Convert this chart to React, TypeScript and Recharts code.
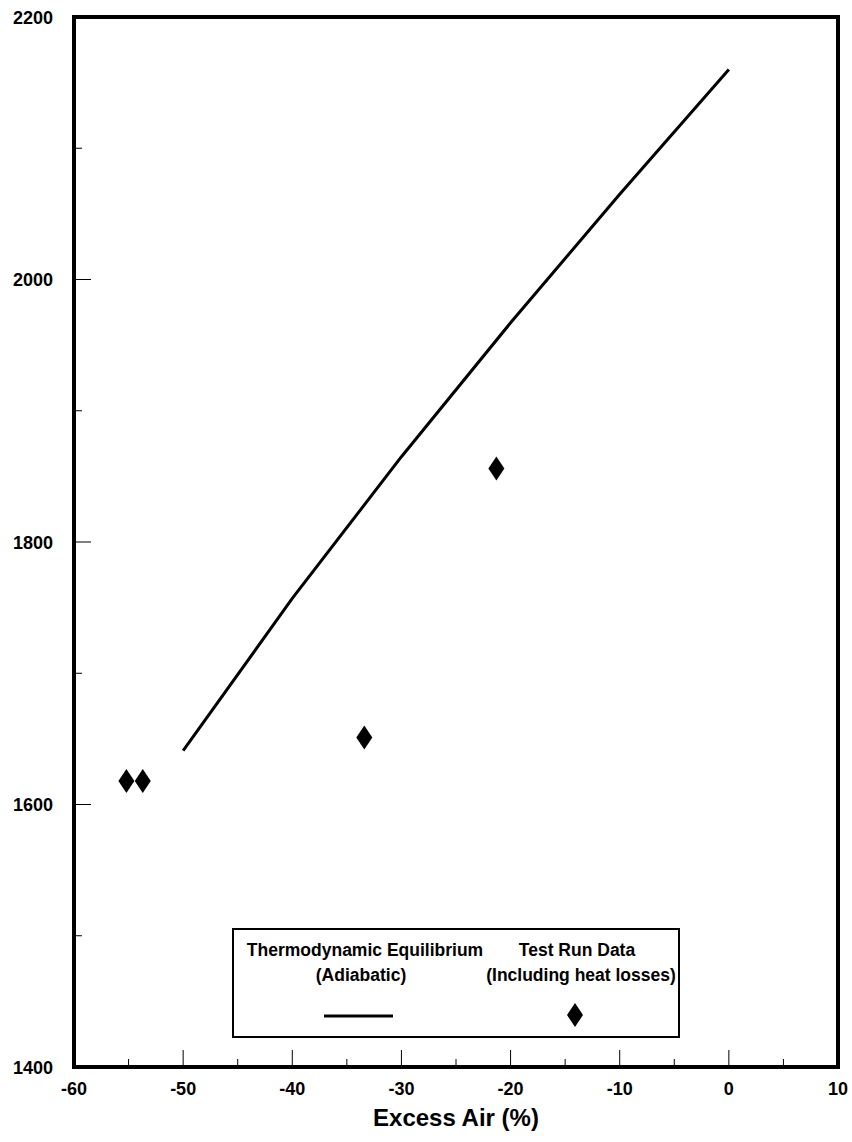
import React from 'react';
import { ComposedChart, Line, Scatter, XAxis, YAxis, ReferenceArea, Legend } from 'recharts';

const FONT = "'Liberation Sans', Arial, Helvetica, sans-serif";

// Thermodynamic Equilibrium (Adiabatic) curve
const equilibriumX = [-50, -40, -30, -20, -10, 0];
const equilibriumY = [1641, 1757, 1865, 1967, 2065, 2160];

// Test Run Data (Including heat losses)
const testRunX = [-55.2, -53.7, -33.4, -21.3];
const testRunY = [1618, 1618, 1651, 1856];

const xTicks = [-60, -55, -50, -45, -40, -35, -30, -25, -20, -15, -10, -5, 0, 5, 10];
const xLabelTicks = [-60, -50, -40, -30, -20, -10, 0, 10];
const yTicks = [1400, 1500, 1600, 1700, 1800, 1900, 2000, 2100, 2200];
const yLabelTicks = [1400, 1600, 1800, 2000, 2200];

const lineData = equilibriumX.map((x, i) => ({ x, y: equilibriumY[i] }));
const scatterData = testRunX.map((x, i) => ({ x, y: testRunY[i] }));

const XTick = (props: any) => {
  const { x, y, payload } = props;
  const major = xLabelTicks.includes(payload.value);
  return (
    <g>
      <line x1={x} x2={x} y1={y} y2={y - (major ? 17 : 8)} stroke="#000" strokeWidth={1} />
      {major && (
        <text x={x} y={y + 28} textAnchor="middle" fontSize={18} fontWeight="bold" fontFamily={FONT} fill="#000">
          {payload.value}
        </text>
      )}
    </g>
  );
};

const YTick = (props: any) => {
  const { x, y, payload } = props;
  const major = yLabelTicks.includes(payload.value);
  return (
    <g>
      <line x1={x} x2={x + (major ? 17 : 8)} y1={y} y2={y} stroke="#000" strokeWidth={1} />
      {major && (
        <text x={x - 21} y={y + 6.5} textAnchor="end" fontSize={18} fontWeight="bold" fontFamily={FONT} fill="#000">
          {payload.value}
        </text>
      )}
    </g>
  );
};

const Diamond = (props: any) => {
  const { cx, cy } = props;
  return <polygon points={`${cx},${cy - 12} ${cx + 8},${cy} ${cx},${cy + 12} ${cx - 8},${cy}`} fill="#000" />;
};

const LegendBox = () => (
  <div style={{ width: 448, height: 110, border: '2px solid #000', boxSizing: 'border-box', background: '#fff' }}>
    <svg width={444} height={106} style={{ display: 'block' }}>
      <g fontFamily={FONT} fontWeight="bold" fontSize={17.5} fill="#000" textAnchor="middle">
        <text x={131} y={26}>Thermodynamic Equilibrium</text>
        <text x={127} y={51}>(Adiabatic)</text>
        <text x={343} y={26}>Test Run Data</text>
        <text x={347} y={51}>(Including heat losses)</text>
      </g>
      <line x1={90} x2={159} y1={86} y2={86} stroke="#000" strokeWidth={3} />
      <Diamond cx={341} cy={85} />
    </svg>
  </div>
);

export default function App() {
  return (
    <div style={{ width: 852, height: 1142, fontFamily: FONT }}>
      <style>{'html{overflow:hidden} body{margin:0}'}</style>
      <ComposedChart width={852} height={1142} margin={{ top: 17, right: 14, bottom: 0, left: 0 }}>
        <XAxis
          type="number"
          dataKey="x"
          domain={[-60, 10]}
          ticks={xTicks}
          interval={0}
          allowDataOverflow
          height={75}
          axisLine={false}
          tickLine={false}
          tickSize={0}
          tickMargin={0}
          tick={<XTick />}
          label={{
            value: 'Excess Air (%)',
            position: 'insideBottom',
            offset: 16,
            style: { fontSize: 24, fontWeight: 'bold', fontFamily: FONT, fill: '#000' },
          }}
        />
        <YAxis
          type="number"
          dataKey="y"
          domain={[1400, 2200]}
          ticks={yTicks}
          interval={0}
          allowDataOverflow
          width={74}
          axisLine={false}
          tickLine={false}
          tickSize={0}
          tickMargin={0}
          tick={<YTick />}
        />
        <ReferenceArea x1={-60} x2={10} y1={1400} y2={2200} fill="none" fillOpacity={0} stroke="#000" strokeWidth={4} />
        <Line
          data={lineData}
          dataKey="y"
          type="linear"
          stroke="#000"
          strokeWidth={3}
          dot={false}
          activeDot={false}
          isAnimationActive={false}
        />
        <Scatter data={scatterData} dataKey="y" fill="#000" shape={<Diamond />} isAnimationActive={false} />
        <Legend
          layout="horizontal"
          verticalAlign="middle"
          align="center"
          content={<LegendBox />}
          wrapperStyle={{ left: 232, top: 928, width: 448, height: 110 }}
        />
      </ComposedChart>
    </div>
  );
}
